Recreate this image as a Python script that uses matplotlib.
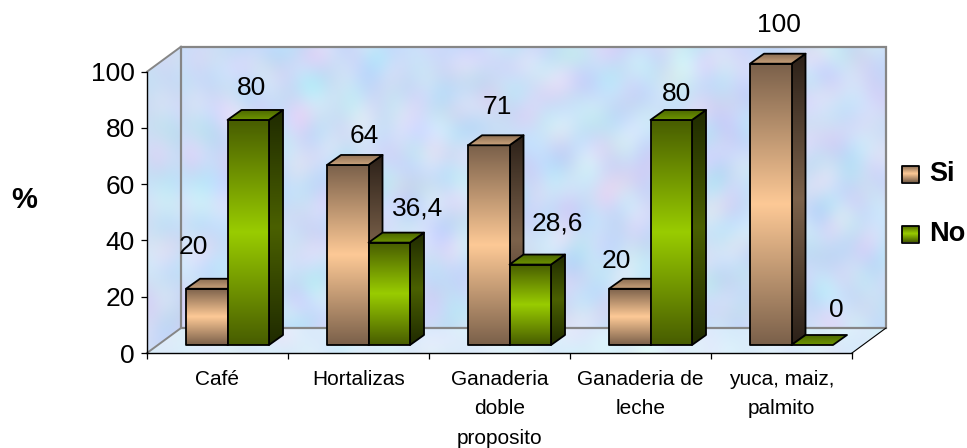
import numpy as np
import matplotlib
matplotlib.use('Agg')
import matplotlib.pyplot as plt
from matplotlib.patches import Polygon
from matplotlib.colors import LinearSegmentedColormap

plt.rcParams['font.family'] = ['Liberation Sans', 'DejaVu Sans']

categorias = ['Café', 'Hortalizas', 'Ganaderia\ndoble\nproposito', 'Ganaderia de\nleche', 'yuca, maiz,\npalmito']
si = [20, 64, 71, 20, 100]
no = [80, 36.4, 28.6, 80, 0]
series_nombres = ['Si', 'No']
y_ticks = [0, 20, 40, 60, 80, 100]

W, H = 967, 448
PX_X = 141.0    # pixels por categoria
PX_Y = 2.813    # pixels por unidad de %
X0, Y0 = 147, 353

# profundidad de la caja y de las barras, en pixels
BOX_DX, BOX_DY = 34 / PX_X, 25 / PX_Y
BAR_DX, BAR_DY = 14 / PX_X, 10 / PX_Y
BAR_W = 41.5 / PX_X
BAR_X = 0.071
BAR_Y = 8 / PX_Y

SI_FRONT = ['#7a604a', '#fdc996', '#7a604a']
NO_FRONT = ['#475c00', '#99cc00', '#475c00']
SI_SIDE = ['#2b2018', '#7c624b', '#2b2018']
NO_SIDE = ['#1f2a00', '#4a6000', '#1f2a00']
SI_TOP = ['#8d6f53', '#c9a27c']
NO_TOP = ['#4d6800', '#6f9600']


def px(x, y):
    return (x - X0) / PX_X, (Y0 - y) / PX_Y


def marmol(w, h, base, fuerza):
    # textura de fondo hecha con ondas superpuestas, manchas grandes + grano fino
    yy, xx = np.mgrid[0:h, 0:w]
    img = np.zeros((h, w, 3))
    canales = [(0.0, 1.15), (2.1, 0.8), (4.2, 0.4)]
    for c, (fase, amp) in enumerate(canales):
        campo = np.zeros((h, w))
        for k in range(1, 41):
            ang = k * 2.399963 + fase
            f = 0.03 + 0.16 * ((k * 0.618034) % 1) ** 1.5
            u = xx * np.cos(ang) + yy * np.sin(ang)
            v = -xx * np.sin(ang) + yy * np.cos(ang)
            campo += np.sin(u * f + k * 1.7 + fase + 2.0 * np.sin(v * 0.021 + k))
        img[..., c] = base[c] + fuerza * amp * campo / 5.0
    return np.clip(img, 0, 1)


def cara(ax, pts, colores, z):
    pts = np.array(pts)
    cmap = LinearSegmentedColormap.from_list('g', colores)
    grad = np.linspace(0, 1, 256).reshape(-1, 1)
    ext = (pts[:, 0].min(), pts[:, 0].max(), pts[:, 1].min(), pts[:, 1].max())
    im = ax.imshow(grad, cmap=cmap, extent=ext, origin='upper', aspect='auto',
                   interpolation='bilinear', zorder=z)
    im.set_clip_path(Polygon(pts, transform=ax.transData))
    ax.add_patch(Polygon(pts, closed=True, fill=False, ec='black', lw=1.3,
                         joinstyle='round', zorder=z + 0.1))


def barra(ax, x, v, front, side, top, z):
    y = BAR_Y
    x1 = x + BAR_W
    if v > 0:
        cara(ax, [(x1, y), (x1 + BAR_DX, y + BAR_DY), (x1 + BAR_DX, y + v + BAR_DY), (x1, y + v)], side, z)
        cara(ax, [(x, y), (x1, y), (x1, y + v), (x, y + v)], front, z + 0.2)
    cara(ax, [(x, y + v), (x1, y + v), (x1 + BAR_DX, y + v + BAR_DY), (x + BAR_DX, y + v + BAR_DY)], top, z + 0.4)


fig = plt.figure(figsize=(W / 100, H / 100), dpi=100, facecolor='white')
ax = fig.add_axes([0, 0, 1, 1])
ax.set_facecolor('none')
xlim = (-X0 / PX_X, (W - X0) / PX_X)
ylim = ((Y0 - H) / PX_Y, Y0 / PX_Y)

# paredes y piso de la caja
n = len(categorias)
top = y_ticks[-1]
pared = [(BOX_DX, BOX_DY), (n + BOX_DX, BOX_DY), (n + BOX_DX, top + BOX_DY), (BOX_DX, top + BOX_DY)]
lateral = [(0, 0), (BOX_DX, BOX_DY), (BOX_DX, top + BOX_DY), (0, top)]
piso = [(0, 0), (n, 0), (n + BOX_DX, BOX_DY), (BOX_DX, BOX_DY)]
for pts, base, fuerza, dims in [(pared, (0.80, 0.87, 0.97), 0.024, (705, 282)),
                                (lateral, (0.80, 0.87, 0.96), 0.02, (34, 307)),
                                (piso, (0.86, 0.93, 0.98), 0.014, (739, 25))]:
    pts = np.array(pts)
    ext = (pts[:, 0].min(), pts[:, 0].max(), pts[:, 1].min(), pts[:, 1].max())
    im = ax.imshow(marmol(dims[0], dims[1], base, fuerza), extent=ext, aspect='auto',
                   interpolation='bilinear', zorder=0.5)
    im.set_clip_path(Polygon(pts, transform=ax.transData))

gris = '#868686'
ax.add_patch(Polygon(pared, closed=True, fill=False, ec=gris, lw=1.6, zorder=1))
ax.plot([0, BOX_DX], [top, top + BOX_DY], color=gris, lw=1.4, zorder=1)
ax.plot([0, BOX_DX], [0, BOX_DY], color=gris, lw=1.4, zorder=1)
ax.plot([n, n + BOX_DX], [0, BOX_DY], color='black', lw=0.8, zorder=1)

# barras y sus etiquetas
nudge_si = [(-13, 42), (16, 29), (9, 38), (-13, 28), (8, 39)]
nudge_no = [(3, 32), (28, 34), (27, 41), (5, 26), (24, 35)]
z = 3
for i in range(n):
    xs = i + 0.5 + BAR_X - BAR_W
    xn = i + 0.5 + BAR_X
    barra(ax, xs, si[i], SI_FRONT, SI_SIDE, SI_TOP, z)
    barra(ax, xn, no[i], NO_FRONT, NO_SIDE, NO_TOP, z + 1)
    z += 2
    for x, v, off in [(xs, si[i], nudge_si[i]), (xn, no[i], nudge_no[i])]:
        ax.annotate(f'{v:g}'.replace('.', ','), (x + BAR_W / 2, BAR_Y + v),
                    xytext=(off[0] * 0.72, off[1] * 0.72), textcoords='offset points',
                    ha='center', va='center', fontsize=19, color='black', zorder=40)

# ejes
for s in ['top', 'right']:
    ax.spines[s].set_visible(False)
ax.spines['left'].set_position(('data', 0))
ax.spines['left'].set_bounds(0, top)
ax.spines['bottom'].set_position(('data', 0))
ax.spines['bottom'].set_bounds(0, n)
for s in ['left', 'bottom']:
    ax.spines[s].set_linewidth(1.0)
ax.set_yticks(y_ticks)
ax.tick_params(axis='y', labelsize=19, length=4.3, width=0.9, pad=4.3)
ax.set_xticks(range(n + 1))
ax.set_xticklabels([])
ax.set_xticks([i + 0.5 for i in range(n)], minor=True)
ax.set_xticklabels(categorias, minor=True, fontsize=15, linespacing=1.72)
ax.tick_params(axis='x', which='major', length=4.3, width=0.9)
ax.tick_params(axis='x', which='minor', length=0, pad=12)

x_pct, y_pct = px(24.5, 200)
ax.text(x_pct, y_pct, '%', fontsize=21, fontweight='bold', ha='center', va='center')

# leyenda con muestras degradadas
for nombre, colores, cy in [(series_nombres[0], SI_FRONT, 174), (series_nombres[1], NO_FRONT, 234)]:
    (x0, y0), (x1, y1) = px(902, cy - 8.5), px(919, cy + 8.5)
    cara(ax, [(x0, y0), (x1, y0), (x1, y1), (x0, y1)], colores, 30)
    tx, ty = px(929, cy)
    ax.text(tx, ty, nombre, fontsize=19.5, fontweight='bold', ha='left', va='center')

ax.set_xlim(xlim)
ax.set_ylim(ylim)
fig.savefig('out.png', dpi=100)
